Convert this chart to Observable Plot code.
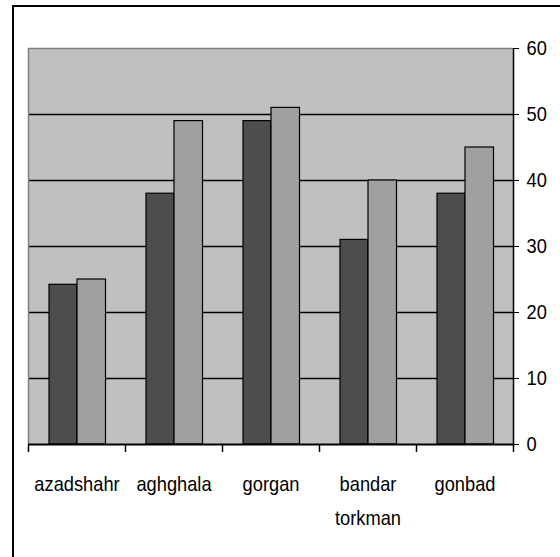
<!DOCTYPE html>
<html>
<head>
<meta charset="utf-8">
<script src="https://cdn.jsdelivr.net/npm/d3@7"></script>
<script src="https://cdn.jsdelivr.net/npm/@observablehq/plot@0.6"></script>
<style>
  html, body { margin: 0; padding: 0; background: #fff; }
  #wrap { position: relative; width: 560px; height: 557px; overflow: hidden; }
  #border { position: absolute; left: 12px; top: 5px; right: -10px; bottom: -10px;
            border-top: 2px solid #000; border-left: 2px solid #000; pointer-events: none; }
  #chart { position: absolute; left: 0; top: 0; }
</style>
</head>
<body>
<div id="wrap"><div id="chart"></div><div id="border"></div></div>
<script>
const cities = ["azadshahr", "aghghala", "gorgan", "bandar torkman", "gonbad"];
const cityLabels = ["azadshahr", "aghghala", "gorgan", "bandar\ntorkman", "gonbad"];
const series1 = [24.2, 38, 49, 31, 38];
const series2 = [25, 49, 51, 40, 45];
const yTicks = [0, 10, 20, 30, 40, 50, 60];
const gridValues = [10, 20, 30, 40, 50];

const table = cities.map((c, i) => ({city: c, label: cityLabels[i], s1: series1[i], s2: series2[i]}));
const first = cities[0], last = cities[cities.length - 1];
const half = 48.5;

const chart = Plot.plot({
  width: 560,
  height: 557,
  marginLeft: 28,
  marginRight: 47,
  marginTop: 48,
  marginBottom: 113,
  style: {fontFamily: "'Liberation Sans', Arial, sans-serif", fontSize: "21px", color: "#000", background: "transparent"},
  x: {domain: cities, padding: 0, axis: null},
  y: {domain: [0, 60], ticks: yTicks, axis: "right", tickSize: 5, tickPadding: 8, label: null},
  marks: [
    Plot.frame({fill: "#c0c0c0", stroke: "none"}),
    Plot.ruleY(gridValues, {stroke: "#000", strokeWidth: 1.5}),
    Plot.ruleY([60], {stroke: "#808080", strokeWidth: 1.5}),
    Plot.ruleX([first], {x: d => d, dx: -half, stroke: "#808080", strokeWidth: 1.5}),
    Plot.barY(table, {x: "city", y: "s1", fill: "#4d4d4d", stroke: "#000", strokeWidth: 1.2, insetLeft: 21, insetRight: 48}),
    Plot.barY(table, {x: "city", y: "s2", fill: "#a0a0a0", stroke: "#000", strokeWidth: 1.2, insetLeft: 49, insetRight: 19.5}),
    Plot.ruleY([0], {stroke: "#000", strokeWidth: 2}),
    Plot.ruleX([last], {x: d => d, dx: half, stroke: "#000", strokeWidth: 1.5}),
    Plot.ruleX(cities, {x: d => d, y1: 0, y2: 0, insetBottom: -8, dx: -half, stroke: "#000", strokeWidth: 1.5}),
    Plot.ruleX([last], {x: d => d, y1: 0, y2: 0, insetBottom: -8, dx: half, stroke: "#000", strokeWidth: 1.5}),
    Plot.text(table, {x: "city", y: 0, text: "label", dy: 23, lineAnchor: "top", lineHeight: 1.6, fill: "#000", fontSize: 21})
  ]
});
document.getElementById("chart").appendChild(chart);

// condense text horizontally (narrow face like the reference)
const squeeze = 0.87;
chart.querySelectorAll("text").forEach(t => {
  const spans = t.querySelectorAll("tspan");
  const items = spans.length ? Array.from(spans) : [t];
  items.forEach(el => {
    const w = el.getComputedTextLength();
    if (w > 0) {
      el.setAttribute("textLength", (w * squeeze).toFixed(2));
      el.setAttribute("lengthAdjust", "spacingAndGlyphs");
    }
  });
});
</script>
</body>
</html>
